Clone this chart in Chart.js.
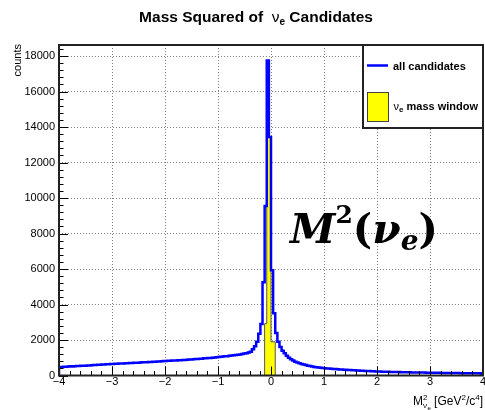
<!DOCTYPE html>
<html>
<head>
<meta charset="utf-8">
<title>Mass Squared of ve Candidates</title>
<script src="https://cdn.jsdelivr.net/npm/chart.js@4.4.1/dist/chart.umd.min.js"></script>
<style>
  html, body { margin: 0; padding: 0; background: #fff; }
  canvas { display: block; }
</style>
</head>
<body>
<canvas id="massChart" width="485" height="410"></canvas>
<script>

// histogram binning (GeV^2/c^4)
const binLow = -4;
const binWidth = 0.04;

// all candidates, 200 bins from -4 to 4
const allCounts = [
    470, 485, 480, 495, 500, 505, 515, 510, 525, 530,
    540, 545, 555, 550, 565, 570, 580, 585, 590, 600,
    610, 615, 625, 630, 640, 645, 650, 660, 655, 670,
    675, 680, 690, 695, 700, 705, 715, 720, 725, 730,
    740, 745, 750, 760, 765, 770, 780, 790, 795, 805,
    810, 820, 825, 830, 840, 845, 850, 860, 865, 875,
    880, 890, 900, 905, 915, 925, 935, 945, 950, 965,
    970, 980, 990, 1000, 1010, 1025, 1040, 1050, 1065, 1080,
    1090, 1110, 1120, 1140, 1155, 1170, 1190, 1210, 1240, 1260,
    1300, 1340, 1480, 1650, 1900, 2350, 2900, 5250, 9550, 17750,
    13440, 5930, 3510, 2390, 1900, 1600, 1400, 1250, 1110, 1000,
    910, 840, 780, 730, 690, 650, 615, 585, 555, 530,
    505, 485, 465, 450, 435, 420, 410, 400, 390, 380,
    370, 360, 352, 345, 337, 330, 322, 315, 308, 300,
    292, 285, 280, 272, 266, 260, 254, 248, 242, 236,
    231, 226, 222, 218, 214, 210, 206, 203, 200, 197,
    194, 191, 188, 185, 182, 180, 177, 175, 172, 170,
    168, 166, 164, 162, 160, 158, 156, 154, 152, 150,
    148, 146, 145, 143, 141, 140, 138, 137, 135, 134,
    133, 131, 130, 129, 128, 127, 126, 125, 124, 123
];

// ve mass window, same binning, from -0.12 to 0.12
const windowLow = -0.12;
const windowCounts = [2920, 2920, 17750, 13440, 1900, 1900];

const xTicks = [-4, -3, -2, -1, 0, 1, 2, 3, 4];
const yTicks = [0, 2000, 4000, 6000, 8000, 10000, 12000, 14000, 16000, 18000];
const yMax = 18620;

const SANS = '"Liberation Sans", Arial, Helvetica, sans-serif';


// turn bin contents into an outline: start and end on zero
function histPoints(low, width, counts) {
    const pts = [{ x: low, y: 0 }];
    counts.forEach((c, i) => {
        pts.push({ x: low + i * width, y: c });
    });
    pts.push({ x: low + counts.length * width, y: 0 });
    return pts;
}


// text with sub/superscripts, parts drawn one after the other
function drawRich(ctx, parts, x, y, align) {
    let cur = 0, prevStart = 0, prevEnd = 0;
    const placed = [];
    parts.forEach((p) => {
        ctx.font = p.font;
        const w = ctx.measureText(p.t).width;
        const start = p.stack ? prevStart : cur;
        const end = start + w;
        placed.push({ p: p, at: start });
        cur = p.stack ? Math.max(prevEnd, end) : end;
        prevStart = start;
        prevEnd = end;
    });
    let x0 = x;
    if (align === 'right') x0 = x - cur;
    if (align === 'center') x0 = x - cur / 2;
    ctx.textAlign = 'left';
    ctx.textBaseline = 'alphabetic';
    placed.forEach((q) => {
        ctx.font = q.p.font;
        ctx.fillStyle = q.p.color || '#000';
        ctx.fillText(q.p.t, x0 + q.at, y + (q.p.dy || 0));
    });
}


const rootStyle = {
    id: 'rootStyle',
    afterDatasetsDraw(chart) {
        const { ctx, chartArea: a, scales } = chart;
        const sx = scales.x, sy = scales.y;

        ctx.save();

        // inward ticks
        ctx.strokeStyle = '#000';
        ctx.lineWidth = 1;
        ctx.beginPath();
        for (let k = 0; k <= 40; k++) {
            const px = Math.round(sx.getPixelForValue(-4 + k * 0.2)) + 0.5;
            const len = k % 5 === 0 ? 9 : 4.5;
            ctx.moveTo(px, a.bottom);
            ctx.lineTo(px, a.bottom - len);
        }
        for (let k = 0; k <= 46; k++) {
            const py = Math.round(sy.getPixelForValue(k * 400)) + 0.5;
            const len = k % 5 === 0 ? 9 : 4.5;
            ctx.moveTo(a.left, py);
            ctx.lineTo(a.left + len, py);
        }
        ctx.stroke();

        // frame
        ctx.strokeStyle = '#222';
        ctx.lineWidth = 2;
        ctx.strokeRect(a.left, a.top, a.right - a.left, a.bottom - a.top);

        // legend box
        const lx = 363, ly = a.top;
        ctx.fillStyle = '#fff';
        ctx.fillRect(lx, ly, a.right - lx, 128 - ly);
        ctx.strokeRect(lx, ly, a.right - lx, 128 - ly);

        ctx.strokeStyle = '#0000ff';
        ctx.lineWidth = 2.5;
        ctx.beginPath();
        ctx.moveTo(367, 65.5);
        ctx.lineTo(388, 65.5);
        ctx.stroke();
        drawRich(ctx, [{ t: 'all candidates', font: 'bold 11px ' + SANS }], 393, 70, 'left');

        ctx.fillStyle = '#ffff00';
        ctx.fillRect(367.5, 92.5, 21, 29);
        ctx.strokeStyle = '#444';
        ctx.lineWidth = 1;
        ctx.strokeRect(367.5, 92.5, 21, 29);
        drawRich(ctx, [
            { t: '\u03bd', font: '11px ' + SANS },
            { t: 'e', font: 'bold 8px ' + SANS, dy: 2.5 },
            { t: ' mass window', font: 'bold 11px ' + SANS }
        ], 393.5, 109.5, 'left');

        // big label inside the plot
        const SERIF = '"DejaVu Serif", "Liberation Serif", serif';
        drawRich(ctx, [
            { t: 'M', font: 'italic bold 41px ' + SERIF },
            { t: '2', font: 'bold 25px ' + SERIF, dy: -20 },
            { t: '(', font: 'bold 41px ' + SERIF },
            { t: '\u03bd', font: 'italic bold 41px ' + SERIF },
            { t: 'e', font: 'italic bold 28px ' + SERIF, dy: 7 },
            { t: ')', font: 'bold 41px ' + SERIF }
        ], 290, 243, 'left');

        ctx.restore();
    },
    afterDraw(chart) {
        const { ctx, chartArea: a } = chart;
        ctx.save();

        // title
        drawRich(ctx, [
            { t: 'Mass Squared of  ', font: 'bold 15.5px ' + SANS },
            { t: '\u03bd', font: '15.5px ' + SANS },
            { t: 'e', font: 'bold 10px ' + SANS, dy: 3 },
            { t: ' Candidates', font: 'bold 15.5px ' + SANS }
        ], 256, 21.5, 'center');

        // y title
        ctx.save();
        ctx.translate(20.5, a.top - 1);
        ctx.rotate(-Math.PI / 2);
        ctx.font = '11px ' + SANS;
        ctx.fillStyle = '#000';
        ctx.textAlign = 'right';
        ctx.textBaseline = 'alphabetic';
        ctx.fillText('counts', 0, 0);
        ctx.restore();

        // x title
        drawRich(ctx, [
            { t: 'M', font: '12px ' + SANS },
            { t: '2', font: '8px ' + SANS, dy: -5 },
            { t: '\u03bd', font: '8px ' + SANS, dy: 3, stack: true },
            { t: 'e', font: '6px ' + SANS, dy: 5 },
            { t: ' [GeV', font: '12px ' + SANS },
            { t: '2', font: '8px ' + SANS, dy: -5 },
            { t: '/c', font: '12px ' + SANS },
            { t: '4', font: '8px ' + SANS, dy: -5 },
            { t: ']', font: '12px ' + SANS }
        ], 483, 405, 'right');

        ctx.restore();
    }
};


const ctx = document.getElementById('massChart').getContext('2d');

new Chart(ctx, {
    type: 'line',
    data: {
        datasets: [
            {
                label: 'all candidates',
                data: histPoints(binLow, binWidth, allCounts),
                stepped: 'after',
                borderColor: '#0000ff',
                borderWidth: 2.5,
                borderJoinStyle: 'miter',
                fill: false,
                pointRadius: 0
            },
            {
                label: 'mass window',
                data: histPoints(windowLow, binWidth, windowCounts),
                stepped: 'after',
                borderColor: '#555',
                borderWidth: 1,
                backgroundColor: '#ffff00',
                fill: 'origin',
                pointRadius: 0
            }
        ]
    },
    options: {
        responsive: false,
        animation: false,
        devicePixelRatio: 1,
        layout: { padding: { top: 45, right: 2, left: 0, bottom: 0 } },
        plugins: {
            legend: { display: false },
            title: { display: false },
            tooltip: { enabled: false }
        },
        scales: {
            x: {
                type: 'linear',
                min: -4,
                max: 4,
                afterBuildTicks: (s) => { s.ticks = xTicks.map((v) => ({ value: v })); },
                afterFit: (s) => { s.height = 34.5; s.paddingLeft = 0; s.paddingRight = 0; },
                ticks: {
                    maxRotation: 0,
                    autoSkip: false,
                    padding: 0,
                    color: '#000',
                    font: { family: SANS, size: 11 },
                    callback: (v) => (v < 0 ? '\u2212' + Math.abs(v) : String(v))
                },
                grid: { color: '#808080', lineWidth: 1, drawTicks: false },
                border: { display: false, dash: [1, 2] }
            },
            y: {
                type: 'linear',
                min: 0,
                max: yMax,
                afterBuildTicks: (s) => { s.ticks = yTicks.map((v) => ({ value: v })); },
                afterFit: (s) => { s.width = 59; s.paddingTop = 0; s.paddingBottom = 0; },
                ticks: {
                    padding: 4,
                    color: '#000',
                    font: { family: SANS, size: 11 },
                    callback: (v) => String(v)
                },
                grid: { color: '#808080', lineWidth: 1, drawTicks: false },
                border: { display: false, dash: [1, 2] }
            }
        }
    },
    plugins: [rootStyle]
});
</script>
</body>
</html>
